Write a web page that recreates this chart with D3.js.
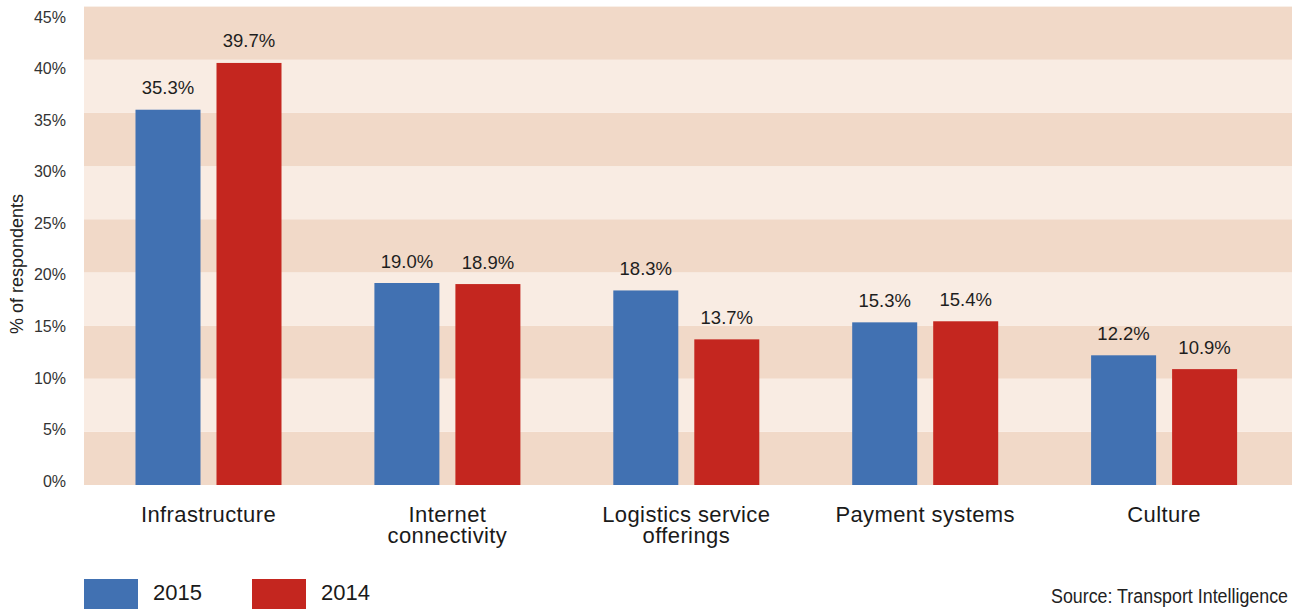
<!DOCTYPE html>
<html>
<head>
<meta charset="utf-8">
<script src="https://cdn.jsdelivr.net/npm/d3@7"></script>
<style>
  html, body { margin: 0; padding: 0; background: #ffffff; }
  svg { display: block; font-family: "Liberation Sans", Arial, Helvetica, sans-serif; }
</style>
</head>
<body>
<svg id="chart" width="1292" height="610"></svg>
<script>
// Survey results: main barriers, share of respondents by year
const categories = [
  ["Infrastructure"],
  ["Internet", "connectivity"],
  ["Logistics service", "offerings"],
  ["Payment systems"],
  ["Culture"]
];
const seriesNames = ["2015", "2014"];
const values2015 = [35.3, 19.0, 18.3, 15.3, 12.2];
const values2014 = [39.7, 18.9, 13.7, 15.4, 10.9];
const yTicks = [0, 5, 10, 15, 20, 25, 30, 35, 40, 45];
const sourceText = "Source: Transport Intelligence";

const colors = { "2015": "#4171b2", "2014": "#c4261f" };
const bandDark = "#f1d9c8";
const bandLight = "#f9ece3";

const svg = d3.select("#chart");

const plot = { left: 84, right: 1292, top: 6.6, bottom: 485 };

const y = d3.scaleLinear().domain([0, 45]).range([plot.bottom, plot.top]);

// category slots (one slot per group, bars centred in each slot)
const catKeys = categories.map(c => c.join(" "));
const slot = 238.9;
const x0 = d3.scaleBand()
  .domain(catKeys)
  .range([89.05, 89.05 + slot * catKeys.length])
  .padding(0);
const groupWidth = 146;
const x1 = d3.scaleBand()
  .domain(seriesNames)
  .range([0, groupWidth])
  .paddingInner(16 / 81);

// alternating horizontal bands, every 5%
const bands = yTicks.slice(0, -1);
svg.append("g").selectAll("rect")
  .data(bands)
  .join("rect")
  .attr("x", plot.left)
  .attr("width", plot.right - plot.left)
  .attr("y", d => y(d + 5))
  .attr("height", d => y(d) - y(d + 5))
  .attr("fill", (d, i) => i % 2 === 0 ? bandDark : bandLight);

// bars
const rows = catKeys.map((k, i) => ({
  key: k,
  lines: categories[i],
  vals: [
    { s: "2015", v: values2015[i] },
    { s: "2014", v: values2014[i] }
  ]
}));

const groups = svg.append("g").selectAll("g")
  .data(rows)
  .join("g")
  .attr("transform", d => {
    const c = x0(d.key) + x0.bandwidth() / 2;
    return `translate(${c - groupWidth / 2},0)`;
  });

groups.selectAll("rect")
  .data(d => d.vals)
  .join("rect")
  .attr("x", d => x1(d.s))
  .attr("width", x1.bandwidth())
  .attr("y", d => y(d.v))
  .attr("height", d => y(0) - y(d.v))
  .attr("fill", d => colors[d.s]);

groups.selectAll("text.val")
  .data(d => d.vals)
  .join("text")
  .attr("class", "val")
  .attr("x", d => x1(d.s) + x1.bandwidth() / 2)
  .attr("y", d => y(d.v) - 15.5)
  .attr("text-anchor", "middle")
  .attr("font-size", "18.5px")
  .attr("fill", "#1e1e1e")
  .text(d => d.v.toFixed(1) + "%");

// category labels
const catLabels = svg.append("g").selectAll("text")
  .data(rows)
  .join("text")
  .attr("x", d => x0(d.key) + x0.bandwidth() / 2)
  .attr("y", 522)
  .attr("text-anchor", "middle")
  .attr("font-size", "22px")
  .attr("letter-spacing", "0.4px")
  .attr("fill", "#1a1a1a");
catLabels.selectAll("tspan")
  .data(d => d.lines)
  .join("tspan")
  .attr("x", function () { return d3.select(this.parentNode).attr("x"); })
  .attr("dy", (d, i) => i === 0 ? 0 : 20.8)
  .text(d => d);

// y axis labels
const yLabel = d3.scaleLinear().domain([0, 45]).range([481, 17]);
const yAxis = svg.append("g")
  .attr("transform", "translate(66,0)")
  .call(d3.axisLeft(yLabel).tickValues(yTicks).tickSize(0).tickPadding(0).tickFormat(d => d + "%"));
yAxis.select(".domain").remove();
yAxis.selectAll("text")
  .attr("font-size", "16px")
  .attr("font-family", "\"Liberation Sans\", Arial, sans-serif")
  .attr("fill", "#333");

// y axis title
svg.append("text")
  .attr("transform", "translate(23,264) rotate(-90)")
  .attr("text-anchor", "middle")
  .attr("font-size", "18px")
  .attr("fill", "#222")
  .text("% of respondents");

// legend
const legend = svg.append("g").selectAll("g")
  .data(seriesNames)
  .join("g")
  .attr("transform", (d, i) => `translate(${84 + i * 168},579)`);
legend.append("rect")
  .attr("width", 54)
  .attr("height", 30)
  .attr("fill", d => colors[d]);
legend.append("text")
  .attr("x", 69)
  .attr("y", 20.5)
  .attr("font-size", "22px")
  .attr("fill", "#1a1a1a")
  .text(d => d);

// source note, set in a condensed width
svg.append("text")
  .attr("x", 1288)
  .attr("y", 603)
  .attr("text-anchor", "end")
  .attr("font-size", "20px")
  .attr("textLength", 237)
  .attr("lengthAdjust", "spacingAndGlyphs")
  .attr("fill", "#222")
  .text(sourceText);
</script>
</body>
</html>
